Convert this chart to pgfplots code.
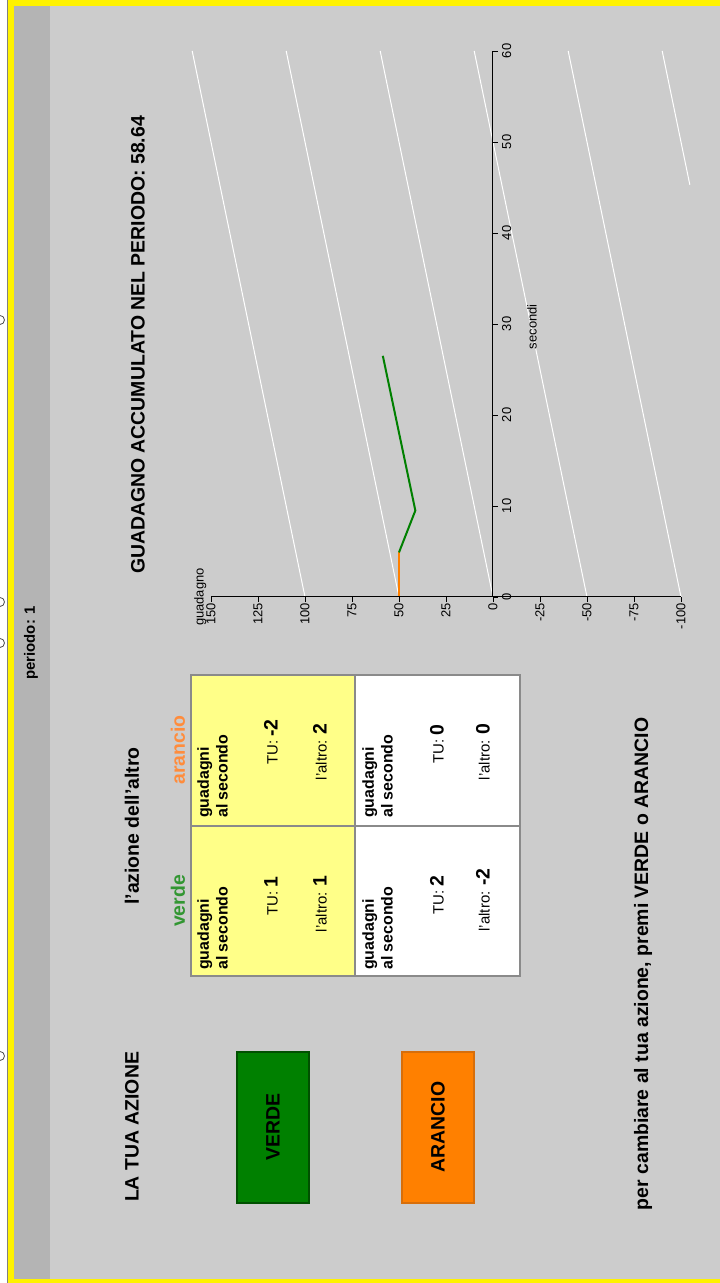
\documentclass[border=0pt]{standalone}
\usepackage{fontspec}
\setmainfont{Liberation Sans}
\usepackage{pgfplots}
\pgfplotsset{compat=1.18}

\definecolor{bgc}{RGB}{204,204,204}
\definecolor{barc}{RGB}{180,180,180}
\definecolor{cellyel}{RGB}{255,255,136}
\definecolor{tblc}{RGB}{138,138,138}
\definecolor{btngreen}{RGB}{0,128,0}
\definecolor{btngreenb}{RGB}{0,80,0}
\definecolor{btnorange}{RGB}{255,128,0}
\definecolor{btnorangeb}{RGB}{215,110,10}
\definecolor{txtgreen}{RGB}{50,150,50}
\definecolor{txtorange}{RGB}{255,140,60}
\definecolor{lgreen}{RGB}{0,128,0}
\definecolor{lorange}{RGB}{255,128,0}

\newcommand{\fs}[1]{\fontsize{#1}{#1}\selectfont}

\begin{document}
\begin{tikzpicture}[rot/.style={rotate=90,inner sep=0pt}]
\useasboundingbox (0,0) rectangle (720bp,1283bp);
\clip (0,0) rectangle (720bp,1283bp);

% screen, drawn in portrait pixels (y downwards)
\begin{scope}[shift={(0bp,1283bp)},x=1bp,y=-1bp]
  \fill[bgc] (0,0) rectangle (720,1283);
  \fill[white] (0,0) rectangle (7,1283);
  \draw[gray,line width=1bp] (7.5,0) -- (7.5,1283);
  \fill[yellow] (8,0) rectangle (14,1283);
  \fill[yellow] (8,0) rectangle (720,6);
  \fill[yellow] (8,1279) rectangle (720,1283);
  \fill[barc] (14,6) rectangle (50,1279);
  \foreach \yy in {320,602,643,1056}
    \draw[black!70,line width=0.8bp] (0,\yy) circle (4.5bp);
  \node[rot,font=\bfseries\fs{15}] at (31,643) {periodo: 1};

  % left panel
  \node[rot,font=\bfseries\fs{19.5}] at (132,1127) {LA TUA AZIONE};
  \filldraw[fill=btngreen,draw=btngreenb,line width=1.5bp] (237,1052) rectangle (309,1203);
  \node[rot,font=\bfseries\fs{19.5}] at (273,1127) {VERDE};
  \filldraw[fill=btnorange,draw=btnorangeb,line width=1.5bp] (402,1052) rectangle (474,1203);
  \node[rot,font=\bfseries\fs{19.5}] at (438,1127) {ARANCIO};

  \node[rot,font=\bfseries\fs{19.5}] at (132,826) {l'azione dell'altro};
  \node[rot,font=\bfseries\fs{19.5},text=txtgreen] at (178,901) {verde};
  \node[rot,font=\bfseries\fs{19.5},text=txtorange] at (178,750) {arancio};

  % payoff table
  \fill[cellyel] (191,675) rectangle (355,976);
  \fill[white] (355,675) rectangle (520,976);
  \draw[tblc,line width=1.5bp] (191,675) rectangle (520,976);
  \draw[tblc,line width=1.5bp] (355,675) -- (355,976);
  \draw[tblc,line width=1.5bp] (191,826) -- (520,826);
  \foreach \xx in {197,362}
    \foreach \yy in {970,818}
      \node[rot,anchor=north west,align=left,font=\bfseries\fontsize{16}{19}\selectfont] at (\xx,\yy) {guadagni\\al secondo};
  \node[rot] at (271,896) {\fs{15}TU: \bfseries\fs{19.5}1};
  \node[rot] at (320,904) {\fs{15}l'altro: \bfseries\fs{19.5}1};
  \node[rot] at (271,742) {\fs{15}TU: \bfseries\fs{19.5}-2};
  \node[rot] at (320,752) {\fs{15}l'altro: \bfseries\fs{19.5}2};
  \node[rot] at (437,895) {\fs{15}TU: \bfseries\fs{19.5}2};
  \node[rot] at (483,900) {\fs{15}l'altro: \bfseries\fs{19.5}-2};
  \node[rot] at (437,744) {\fs{15}TU: \bfseries\fs{19.5}0};
  \node[rot] at (483,752) {\fs{15}l'altro: \bfseries\fs{19.5}0};

  \node[rot,font=\bfseries\fs{19.5}] at (643,964) {per cambiare al tua azione, premi VERDE o ARANCIO};

  % chart title
  \node[rot,font=\bfseries\fs{19.5}] at (138,345) {GUADAGNO ACCUMULATO NEL PERIODO: 58.64};
\end{scope}

\begin{axis}[
  at={(211bp,686bp)}, anchor=south west,
  scale only axis, width=470bp, height=546bp,
  x dir=reverse,
  xmin=-100, xmax=150, ymin=0, ymax=60,
  axis lines=middle,
  axis line style={-,black,line width=1bp},
  axis on top,
  clip=false,
  xtick={-100,-75,...,150}, ytick={0,10,...,60},
  hide obscured x ticks=false, hide obscured y ticks=false,
  tick style={black,line width=0.8bp},
  major tick length=5bp,
  tick align=outside,
  /pgf/number format/assume math mode=true,
  xticklabel style={rotate=90,anchor=east,font=\fs{13},inner sep=1bp},
  yticklabel style={xshift=13bp,rotate=90,anchor=north,font=\fs{13},inner sep=1bp},
  xlabel={guadagno}, ylabel={secondi},
  xlabel style={at={(axis description cs:-0.023,0)},rotate=90,anchor=center,font=\fs{13}},
  ylabel style={at={(axis description cs:0.683,0.495)},rotate=90,anchor=center,font=\fs{13}},
  ]
  % lines of slope 1 (guadagno = c + secondi)
  \addplot[white,line width=1bp] coordinates {(100,0) (160,60)};
  \addplot[white,line width=1bp] coordinates {(50,0) (110,60)};
  \addplot[white,line width=1bp] coordinates {(0,0) (60,60)};
  \addplot[white,line width=1bp] coordinates {(-50,0) (10,60)};
  \addplot[white,line width=1bp] coordinates {(-100,0) (-40,60)};
  \addplot[white,line width=1bp] coordinates {(-104.7,45.3) (-90,60)};
  % accumulated payoff
  \addplot[lorange,line width=2bp] coordinates {(50,0) (50,4.9)};
  \addplot[lgreen,line width=2bp] coordinates {(50,4.9) (41.3,9.5) (58.6,26.5)};
\end{axis}
\end{tikzpicture}
\end{document}
